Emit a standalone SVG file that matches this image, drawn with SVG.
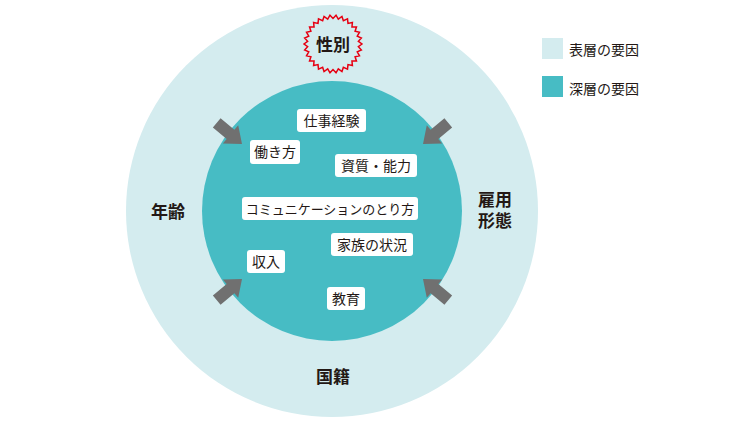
<svg xmlns="http://www.w3.org/2000/svg" width="750" height="422" viewBox="0 0 750 422">
<style>
.outer{fill:#d4ecef}
.inner{fill:#47bcc4}
.big{font-family:"Noto Sans CJK JP","Noto Sans",sans-serif;font-size:17px;font-weight:bold;fill:#231815;text-anchor:middle}
.lbl{font-family:"Noto Sans CJK JP","Noto Sans",sans-serif;font-size:14px;fill:#231815;text-anchor:middle}
.lbl.small{font-size:13px}
.leg{font-family:"Noto Sans CJK JP","Noto Sans",sans-serif;font-size:14px;fill:#231815}
.box{fill:#ffffff}
.arrow{fill:#707070}
</style>
<defs>
<polygon id="arr" points="0,0 -15,-12 -15,-6 -33,-6 -33,6 -15,6 -15,12"/>
</defs>
<rect width="750" height="422" fill="#ffffff"/>
<g id="outer-circle"><circle class="outer" cx="332" cy="211" r="206"/></g>
<g id="inner-circle"><circle class="inner" cx="332" cy="211" r="130"/></g>
<g id="legend">
<rect x="542" y="38" width="21" height="21" fill="#d4ecef"/>
<text class="leg" x="569" y="55">表層の要因</text>
<rect x="542" y="76" width="21" height="21" fill="#47bcc4"/>
<text class="leg" x="569" y="94">深層の要因</text>
</g>
<g id="seibetsu">
<polygon fill="#d4ecef" stroke="#e60012" stroke-width="1.5" stroke-linejoin="miter" points="362,44 358.36,46.66 361.36,50.03 357.25,51.88 359.49,55.79 355.08,56.75 356.46,61.05 351.95,61.06 352.4,65.55 347.99,64.63 347.5,69.11 343.37,67.29 341.96,71.58 338.3,68.94 336.03,72.84 333,69.5 329.97,72.84 327.7,68.94 324.04,71.58 322.63,67.29 318.5,69.11 318.01,64.63 313.6,65.55 314.05,61.06 309.54,61.05 310.92,56.75 306.51,55.79 308.75,51.88 304.64,50.03 307.64,46.66 304,44 307.64,41.34 304.64,37.97 308.75,36.12 306.51,32.21 310.92,31.25 309.54,26.95 314.05,26.94 313.6,22.45 318.01,23.37 318.5,18.89 322.63,20.71 324.04,16.42 327.7,19.06 329.97,15.16 333,18.5 336.03,15.16 338.3,19.06 341.96,16.42 343.37,20.71 347.5,18.89 347.99,23.37 352.4,22.45 351.95,26.94 356.46,26.95 355.08,31.25 359.49,32.21 357.25,36.12 361.36,37.97 358.36,41.34"/>
<text class="big" x="333" y="51">性別</text>
</g>
<g id="nenrei"><text class="big" x="168" y="218">年齢</text></g>
<g id="koyou"><text class="big" x="495" y="206">雇用</text><text class="big" x="495" y="227">形態</text></g>
<g id="kokuseki"><text class="big" x="333" y="383">国籍</text></g>
<g id="connectors">
<use href="#arr" class="arrow" transform="translate(242,144) rotate(40)"/>
<use href="#arr" class="arrow" transform="translate(423,144) rotate(140)"/>
<use href="#arr" class="arrow" transform="translate(242,279) rotate(-40)"/>
<use href="#arr" class="arrow" transform="translate(423,279) rotate(-140)"/>
</g>
<g id="shigoto"><rect class="box" x="297" y="109" width="69" height="23" rx="3"/><text class="lbl" x="331.5" y="126">仕事経験</text></g>
<g id="hatarakikata"><rect class="box" x="250" y="140" width="50" height="24" rx="3"/><text class="lbl" x="275" y="157">働き方</text></g>
<g id="shishitsu"><rect class="box" x="335" y="154" width="82" height="23" rx="3"/><text class="lbl" x="376" y="171">資質・能力</text></g>
<g id="communication"><rect class="box" x="242" y="197" width="176" height="23" rx="3"/><text class="lbl small" x="330" y="213.5">コミュニケーションのとり方</text></g>
<g id="kazoku"><rect class="box" x="331" y="233" width="82" height="23" rx="3"/><text class="lbl" x="372" y="250">家族の状況</text></g>
<g id="shuunyuu"><rect class="box" x="247" y="250" width="38" height="23" rx="3"/><text class="lbl" x="266" y="267">収入</text></g>
<g id="kyouiku"><rect class="box" x="327" y="287" width="38" height="23" rx="3"/><text class="lbl" x="346" y="304">教育</text></g>
</svg>
